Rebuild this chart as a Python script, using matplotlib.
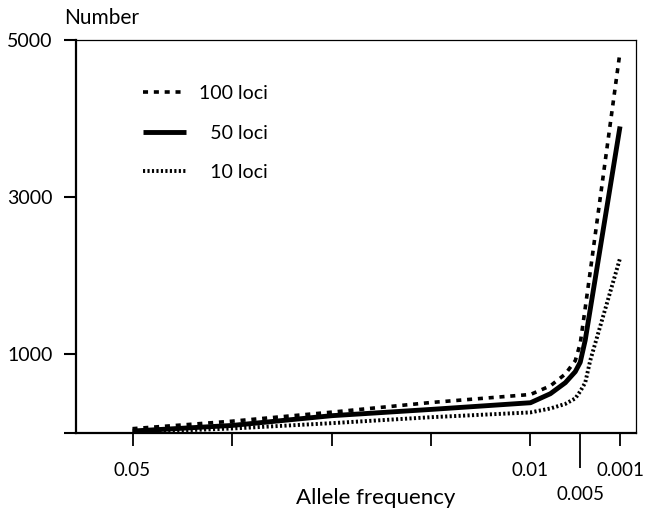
import matplotlib.pyplot as plt

plt.rcParams["font.family"] = ["Lato", "DejaVu Sans"]

# allele frequency (x axis runs from common to rare)
freq = [0.05, 0.04, 0.03, 0.02, 0.01, 0.008, 0.0065, 0.0055, 0.005, 0.0045, 0.004, 0.001]

loci_100 = [55, 150, 265, 388, 490, 600, 750, 920, 1140, 1590, 2050, 4850]
loci_50 = [25, 96, 220, 300, 385, 500, 640, 780, 900, 1180, 1570, 3900]
loci_10 = [10, 57, 125, 201, 262, 312, 370, 440, 530, 640, 920, 2223]

x_ticks = [0.05, 0.04, 0.03, 0.02, 0.01, 0.001]
x_ticklabels = ["0.05", "", "", "", "0.01", "0.001"]
y_ticks = [0, 1000, 3000, 5000]
y_ticklabels = ["", "1000", "3000", "5000"]

fig = plt.figure(figsize=(6.58, 5.12), dpi=100)
ax = fig.add_axes([0.1155, 0.1543, 0.851, 0.7676])

ax.plot(freq, loci_100, color="black", lw=2.6, linestyle=(0, (1.4, 1.6)),
        label="100 loci")
ax.plot(freq, loci_50, color="black", lw=3.5, solid_capstyle="butt",
        label="\u200750 loci")
ax.plot(freq, loci_10, color="black", lw=2.8, linestyle=(0, (0.55, 0.6)),
        label="\u200710 loci")

ax.set_xlim(0.05568, -0.0006)
ax.set_ylim(0, 5000)

ax.set_xticks(x_ticks)
ax.set_xticklabels(x_ticklabels)
# 0.005 sits on a longer tick, label dropped below the others
ax.set_xticks([0.005], minor=True)
ax.set_xticklabels(["0.005"], minor=True)
ax.set_yticks(y_ticks)
ax.set_yticklabels(y_ticklabels)

ax.tick_params(axis="x", which="major", direction="out", length=9, width=1.3,
               pad=12, labelsize=13.5)
ax.tick_params(axis="x", which="minor", direction="out", length=25, width=1.3,
               pad=13, labelsize=13.5)
ax.tick_params(axis="y", direction="out", length=9, width=1.5, pad=8,
               labelsize=14)

for side in ["left", "bottom"]:
    ax.spines[side].set_linewidth(1.6)
for side in ["top", "right"]:
    ax.spines[side].set_linewidth(0.9)

ax.set_xlabel("Allele frequency", fontsize=16)
ax.xaxis.set_label_coords(0.536, -0.14)
ax.text(-0.022, 1.03, "Number", transform=ax.transAxes, ha="left",
        va="bottom", fontsize=15)

ax.legend(loc="upper left", bbox_to_anchor=(0.12, 0.885), frameon=False,
          borderpad=0, borderaxespad=0, handlelength=2.2, handletextpad=0.65,
          labelspacing=1.15, fontsize=14)

fig.savefig("out.png", dpi=100)
